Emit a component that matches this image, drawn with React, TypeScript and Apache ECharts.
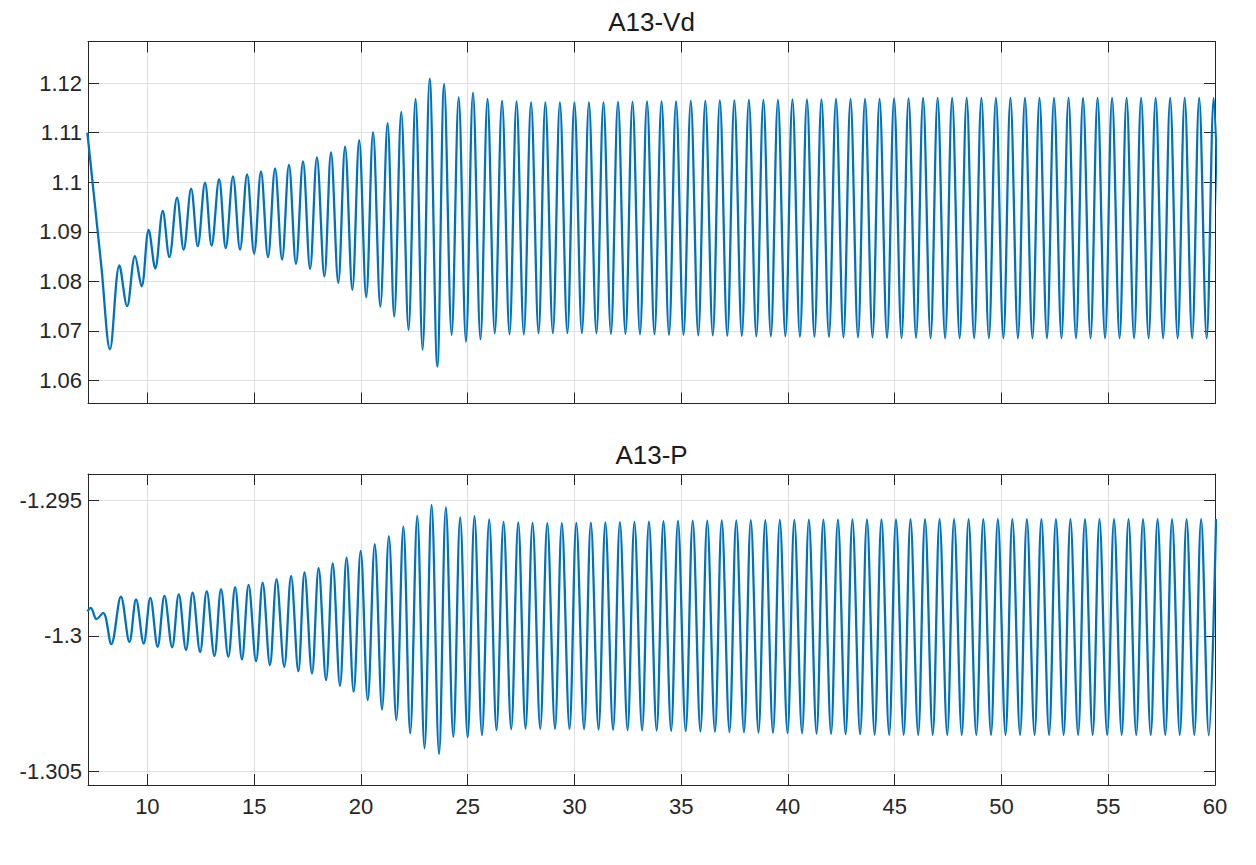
import React, { useEffect, useRef } from "react";
import * as echarts from "echarts";

// Axis tick values
const xTicks = [10, 15, 20, 25, 30, 35, 40, 45, 50, 55, 60];
const vdTicks = [1.06, 1.07, 1.08, 1.09, 1.1, 1.11, 1.12];
const pTicks = [-1.305, -1.3, -1.295];

// Titles
const vdTitle = "A13-Vd";
const pTitle = "A13-P";

// A13-Vd: successive extrema [time s, value]
const vdExtrema: [number, number][] = [
  [7.19, 1.11], [7.85, 1.0828], [8.25, 1.0663], [8.69, 1.0832], [9.05, 1.075], [9.42, 1.0851], [9.73, 1.079],
  [10.06, 1.0904], [10.37, 1.0826], [10.72, 1.0942], [11.03, 1.0849], [11.39, 1.0969], [11.7, 1.0864],
  [12.05, 1.0987], [12.36, 1.0871], [12.7, 1.0999], [13.01, 1.0872], [13.36, 1.1006], [13.67, 1.0867],
  [14.01, 1.1012], [14.34, 1.0864], [14.67, 1.1016], [15.0, 1.0856], [15.32, 1.1022], [15.65, 1.0849],
  [15.98, 1.1028], [16.31, 1.0844], [16.63, 1.1035], [16.96, 1.0835], [17.29, 1.1042], [17.62, 1.0825],
  [17.94, 1.105], [18.29, 1.081], [18.6, 1.106], [18.94, 1.0797], [19.26, 1.1072], [19.6, 1.0783],
  [19.92, 1.1085], [20.25, 1.0768], [20.57, 1.1101], [20.91, 1.0749], [21.25, 1.1119], [21.56, 1.0729],
  [21.89, 1.1142], [22.23, 1.0702], [22.56, 1.1168], [22.89, 1.0662], [23.22, 1.1209], [23.58, 1.0628],
  [23.9, 1.1198], [24.25, 1.0692], [24.58, 1.1171], [24.92, 1.0678], [25.25, 1.1181], [25.6, 1.0683],
  [25.93, 1.1168], [26.27, 1.0695], [26.61, 1.1164], [26.96, 1.0693], [27.29, 1.1163], [27.63, 1.0693],
  [27.97, 1.1161], [28.32, 1.0695], [28.64, 1.1161], [28.99, 1.0695],
  [29.32, 1.1161], [29.67, 1.0695], [30.0, 1.1161], [30.35, 1.0695], [30.68, 1.1161], [31.03, 1.0695],
  [31.36, 1.1161], [31.71, 1.0694], [32.04, 1.1162], [32.39, 1.0694], [32.72, 1.1162], [33.07, 1.0693],
  [33.4, 1.1163], [33.75, 1.0693], [34.08, 1.1163], [34.43, 1.0692], [34.76, 1.1163], [35.11, 1.0692],
  [35.45, 1.1164], [35.8, 1.0691], [36.13, 1.1164], [36.48, 1.0691], [36.81, 1.1165], [37.16, 1.069],
  [37.49, 1.1165], [37.84, 1.069], [38.17, 1.1166], [38.52, 1.0689], [38.85, 1.1166], [39.2, 1.0689],
  [39.53, 1.1166], [39.88, 1.0689], [40.21, 1.1167], [40.56, 1.0688], [40.89, 1.1167], [41.24, 1.0688],
  [41.57, 1.1167], [41.92, 1.0688], [42.25, 1.1168], [42.6, 1.0687], [42.93, 1.1168], [43.28, 1.0687],
  [43.61, 1.1168], [43.96, 1.0687], [44.29, 1.1168], [44.64, 1.0686], [44.97, 1.1169], [45.32, 1.0686],
  [45.65, 1.1169], [46.0, 1.0686], [46.33, 1.117], [46.68, 1.0685], [47.01, 1.117], [47.36, 1.0685],
  [47.69, 1.117], [48.04, 1.0685], [48.37, 1.117], [48.72, 1.0685], [49.06, 1.117], [49.41, 1.0685],
  [49.74, 1.117], [50.09, 1.0685], [50.42, 1.117], [50.77, 1.0685], [51.1, 1.117], [51.45, 1.0685],
  [51.78, 1.117], [52.13, 1.0685], [52.46, 1.117], [52.81, 1.0685], [53.14, 1.117], [53.49, 1.0685],
  [53.82, 1.117], [54.17, 1.0685], [54.5, 1.117], [54.85, 1.0685], [55.18, 1.117], [55.53, 1.0685],
  [55.86, 1.117], [56.21, 1.0685], [56.54, 1.117], [56.89, 1.0685], [57.22, 1.117], [57.57, 1.0685],
  [57.9, 1.117], [58.25, 1.0685], [58.58, 1.117], [58.93, 1.0685], [59.26, 1.117], [59.61, 1.0685],
  [59.94, 1.117], [60.29, 1.0685],
];

// A13-P: successive extrema [time s, value]
const pExtrema: [number, number][] = [
  [7.19, -1.2991], [7.35, -1.29897], [7.62, -1.29938], [7.93, -1.29915], [8.31, -1.3003], [8.76, -1.29856],
  [9.16, -1.30022], [9.47, -1.29866], [9.83, -1.30028], [10.14, -1.2986], [10.48, -1.3004], [10.8, -1.29853],
  [11.16, -1.30042], [11.47, -1.29847], [11.81, -1.30052], [12.12, -1.29841], [12.47, -1.30059], [12.78, -1.29835],
  [13.14, -1.30074], [13.45, -1.29828], [13.79, -1.30077], [14.11, -1.29821], [14.43, -1.30087], [14.74, -1.29812],
  [15.09, -1.30093], [15.4, -1.29804], [15.74, -1.30108], [16.05, -1.29791], [16.41, -1.30114], [16.73, -1.29779],
  [17.07, -1.3013], [17.36, -1.29766], [17.71, -1.30138], [18.02, -1.29751], [18.37, -1.30163], [18.68, -1.29733],
  [19.02, -1.30184], [19.33, -1.29712], [19.66, -1.30206], [19.99, -1.29687], [20.32, -1.30236], [20.65, -1.29662],
  [20.99, -1.30271], [21.31, -1.29633], [21.66, -1.3031], [21.99, -1.29598], [22.31, -1.30359], [22.64, -1.29558],
  [22.98, -1.30414], [23.31, -1.29518], [23.66, -1.30435], [23.98, -1.29527], [24.33, -1.30372], [24.65, -1.29564],
  [25.0, -1.30374], [25.32, -1.29559], [25.67, -1.30365], [26.01, -1.29571], [26.35, -1.30347], [26.68, -1.2958],
  [27.04, -1.30344], [27.37, -1.29582], [27.71, -1.30342], [28.04, -1.29584], [28.4, -1.30342], [28.73, -1.29585],
  [29.09, -1.30342], [29.41, -1.29585], [29.77, -1.30343], [30.09, -1.29584], [30.45, -1.30344], [30.77, -1.29583],
  [31.13, -1.30345], [31.45, -1.29582], [31.81, -1.30346], [32.13, -1.29581], [32.49, -1.30347], [32.81, -1.2958],
  [33.17, -1.30348], [33.49, -1.29579], [33.85, -1.30349], [34.17, -1.29578], [34.53, -1.3035], [34.85, -1.29577],
  [35.21, -1.30351], [35.54, -1.29576], [35.9, -1.30352], [36.22, -1.29576], [36.58, -1.30353], [36.9, -1.29575],
  [37.26, -1.30354], [37.58, -1.29575], [37.94, -1.30355], [38.26, -1.29574], [38.62, -1.30356], [38.94, -1.29574],
  [39.3, -1.30357], [39.62, -1.29573], [39.98, -1.30358], [40.3, -1.29573], [40.66, -1.30359], [40.98, -1.29572],
  [41.34, -1.3036], [41.66, -1.29572], [42.02, -1.30361], [42.34, -1.29572], [42.7, -1.30362], [43.02, -1.29571],
  [43.38, -1.30362], [43.7, -1.29571], [44.06, -1.30363], [44.38, -1.29571], [44.74, -1.30364], [45.06, -1.29571],
  [45.42, -1.30364], [45.74, -1.2957], [46.1, -1.30365], [46.42, -1.2957], [46.78, -1.30365], [47.1, -1.2957],
  [47.46, -1.30365], [47.78, -1.2957], [48.14, -1.30365], [48.46, -1.2957], [48.82, -1.30365], [49.15, -1.2957],
  [49.51, -1.30365], [49.83, -1.2957], [50.19, -1.30365], [50.51, -1.2957], [50.87, -1.30365], [51.19, -1.2957],
  [51.55, -1.30365], [51.87, -1.2957], [52.23, -1.30365], [52.55, -1.2957], [52.91, -1.30365], [53.23, -1.2957],
  [53.59, -1.30365], [53.91, -1.2957], [54.27, -1.30365], [54.59, -1.2957], [54.95, -1.30365], [55.27, -1.2957],
  [55.63, -1.30365], [55.95, -1.2957], [56.31, -1.30365], [56.63, -1.2957], [56.99, -1.30365], [57.31, -1.2957],
  [57.67, -1.30365], [57.99, -1.2957], [58.35, -1.30365], [58.67, -1.2957], [59.03, -1.30365], [59.35, -1.2957],
  [59.71, -1.30366], [60.05, -1.2957],
];

const X_MIN = 7.22;
const X_MAX = 60;

const AXIS_COLOR = "#262626";
const GRID_COLOR = "#dfdfdf";
const LINE_COLOR = "#0072BD";
const FONT = "'Liberation Sans', Arial, Helvetica, sans-serif";

function fmt(v: number): string {
  return String(parseFloat(Number(v).toFixed(4)));
}

function xAxisPair(gridIndex: number, showLabels: boolean): any[] {
  const base = {
    type: "value",
    gridIndex,
    min: X_MIN,
    max: X_MAX,
    axisLine: { show: true, onZero: false, lineStyle: { color: AXIS_COLOR, width: 1 } },
  };
  return [
    {
      ...base,
      position: "bottom",
      axisTick: { show: true, inside: true, length: 11, customValues: xTicks, lineStyle: { color: AXIS_COLOR } },
      axisLabel: {
        show: showLabels,
        customValues: xTicks,
        margin: 10,
        color: AXIS_COLOR,
        fontSize: 22,
        fontFamily: FONT,
        formatter: (v: number) => fmt(v),
      },
      splitLine: { show: true, lineStyle: { color: GRID_COLOR, width: 1 } },
    },
    {
      ...base,
      position: "top",
      axisTick: { show: true, inside: true, length: 11, customValues: xTicks, lineStyle: { color: AXIS_COLOR } },
      axisLabel: { show: false },
      splitLine: { show: false },
    },
  ];
}

function yAxisPair(gridIndex: number, min: number, max: number, ticks: number[]): any[] {
  const base = {
    type: "value",
    gridIndex,
    min,
    max,
    scale: true,
    axisLine: { show: true, onZero: false, lineStyle: { color: AXIS_COLOR, width: 1 } },
  };
  return [
    {
      ...base,
      position: "left",
      axisTick: { show: true, inside: true, length: 11, customValues: ticks, lineStyle: { color: AXIS_COLOR } },
      axisLabel: {
        show: true,
        customValues: ticks,
        margin: 6,
        color: AXIS_COLOR,
        fontSize: 22,
        fontFamily: FONT,
        formatter: (v: number) => fmt(v),
      },
      splitLine: { show: true, lineStyle: { color: GRID_COLOR, width: 1 } },
    },
    {
      ...base,
      position: "right",
      axisTick: { show: true, inside: true, length: 11, customValues: ticks, lineStyle: { color: AXIS_COLOR } },
      axisLabel: { show: false },
      splitLine: { show: false },
    },
  ];
}

export default function App() {
  const ref = useRef<HTMLDivElement>(null);

  useEffect(() => {
    document.body.style.margin = "0";
    if (!ref.current) return;
    const chart = echarts.init(ref.current, undefined, { renderer: "svg" });
    const titleStyle = {
      fill: "#1a1a1a",
      fontSize: 26,
      fontFamily: FONT,
      textAlign: "center",
      textVerticalAlign: "middle",
    };
    chart.setOption({
      animation: false,
      backgroundColor: "#ffffff",
      grid: [
        { left: 88, right: 41, top: 41.5, height: 362, containLabel: false },
        { left: 88, right: 41, top: 474, height: 311, containLabel: false },
      ],
      xAxis: [...xAxisPair(0, false), ...xAxisPair(1, true)],
      yAxis: [...yAxisPair(0, 1.05535, 1.1284, vdTicks), ...yAxisPair(1, -1.30549, -1.29404, pTicks)],
      graphic: [
        { type: "text", x: 651.5, y: 21.5, style: { ...titleStyle, text: vdTitle } },
        { type: "text", x: 651.5, y: 455, style: { ...titleStyle, text: pTitle } },
      ],
      series: [
        {
          name: vdTitle,
          type: "line",
          xAxisIndex: 0,
          yAxisIndex: 0,
          data: vdExtrema,
          showSymbol: false,
          smooth: 0.35,
          clip: true,
          lineStyle: { color: LINE_COLOR, width: 2.3 },
        },
        {
          name: pTitle,
          type: "line",
          xAxisIndex: 2,
          yAxisIndex: 2,
          data: pExtrema,
          showSymbol: false,
          smooth: 0.35,
          clip: true,
          lineStyle: { color: LINE_COLOR, width: 2.3 },
        },
      ],
    });
    return () => chart.dispose();
  }, []);

  return <div ref={ref} style={{ width: 1256, height: 865 }} />;
}
